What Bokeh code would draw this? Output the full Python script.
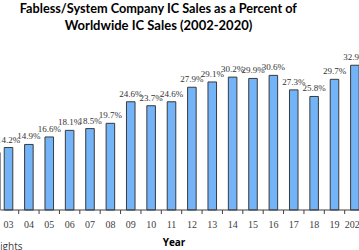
import math
from bokeh.plotting import figure
from bokeh.models import Range1d, ColumnDataSource, LabelSet, Label, Span
from bokeh.embed import file_html
from bokeh.resources import INLINE

years = list(range(2002, 2021))
share = [13.0, 14.2, 14.9, 16.6, 18.1, 18.5, 19.7, 24.6, 23.7, 24.6,
         27.9, 29.1, 30.2, 29.9, 30.6, 27.3, 25.8, 29.7, 32.9]
tick_labels = ["02", "03", "04", "05", "06", "07", "08", "09", "10", "11",
               "12", "13", "14", "15", "16", "17", "18", "19", "2020"]
title_line1 = "Fabless/System Company IC Sales as a Percent of"
title_line2 = "Worldwide IC Sales (2002-2020)"
x_title = "Year"
source_note = "Source: IC Insights"

src = ColumnDataSource(dict(
    year=years,
    share=share,
    label=[f"{v:.1f}%" for v in share],
    tick=tick_labels,
    zero=[0] * len(years),
))
bounds = ColumnDataSource(dict(
    x=[y + 0.5 for y in [years[0] - 1] + years],
    y=[0] * (len(years) + 1),
))

W, H = 359, 250
px_per_pct = 4.4
base_px = 40.5  # space below the baseline

p = figure(width=W, height=H, output_backend="svg", toolbar_location=None,
           x_range=Range1d(2002.607, 2020.227),
           y_range=Range1d(-base_px / px_per_pct, (H - base_px) / px_per_pct),
           x_axis_location=None, y_axis_location=None,
           min_border_left=0, min_border_right=0,
           min_border_top=0, min_border_bottom=0)
p.outline_line_color = None
p.xgrid.visible = False
p.ygrid.visible = False

p.vbar(x="year", top="share", width=0.42, source=src,
       fill_color="#72b4f7", line_color="#3a3a3a", line_width=1)

# category axis: baseline, boundary ticks and tick labels
p.add_layout(Span(location=0, dimension="width", line_color="#404040", line_width=1))
p.ray(x="x", y="y", length=4, length_units="screen", angle=-math.pi / 2,
      source=bounds, line_color="#404040", line_width=1)
p.add_layout(LabelSet(x="year", y="zero", text="tick", source=src,
                      text_align="center", text_baseline="alphabetic", y_offset=-17.5,
                      text_font="Open Sans", text_font_size="10px",
                      text_color="#404040"))

labels = LabelSet(x="year", y="share", text="label", source=src,
                  text_align="center", text_baseline="alphabetic", y_offset=5,
                  text_font="DejaVu Sans", text_font_size="9px",
                  text_color="#333333")
p.add_layout(labels)

text_common = dict(x_units="screen", y_units="screen")
p.add_layout(Label(x=158, y=243, text=title_line1, text_align="center",
                   text_baseline="alphabetic", text_font="Lato", text_font_style="bold",
                   text_font_size="12.7px", text_color="#000000", **text_common))
p.add_layout(Label(x=158, y=225.5, text=title_line2, text_align="center",
                   text_baseline="alphabetic", text_font="Lato", text_font_style="bold",
                   text_font_size="13px", text_color="#000000", **text_common))
p.add_layout(Label(x=173.5, y=9, text=x_title, text_align="center",
                   text_baseline="alphabetic", text_font="Open Sans", text_font_style="bold",
                   text_font_size="10px", text_color="#000000", **text_common))
p.add_layout(Label(x=22, y=4.5, text=source_note, text_align="right",
                   text_baseline="alphabetic", text_font="Open Sans", text_font_style="normal",
                   text_font_size="10px", text_color="#404040", **text_common))

open("out.html", "w").write(file_html(p, INLINE))
